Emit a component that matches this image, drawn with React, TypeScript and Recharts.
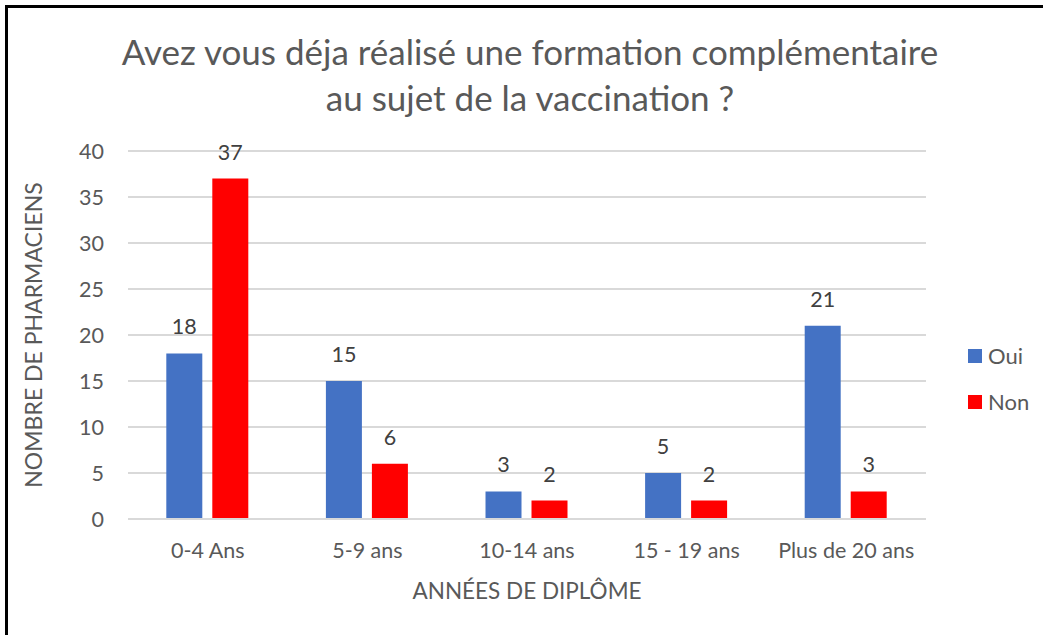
import React from "react";
import { BarChart, Bar, XAxis, YAxis, CartesianGrid, LabelList } from "recharts";

const categories = ["0-4 Ans", "5-9 ans", "10-14 ans", "15 - 19 ans", "Plus de 20 ans"];
const oui = [18, 15, 3, 5, 21];
const non = [37, 6, 2, 2, 3];
const yTicks = [0, 5, 10, 15, 20, 25, 30, 35, 40];

const data = categories.map((c, i) => ({ name: c, Oui: oui[i], Non: non[i] }));

const FONT = "Lato, 'Open Sans', sans-serif";
const GREY = "#595959";

const App = () => {
  return (
    <div style={{ position: "fixed", left: 0, top: 0, width: 1043, height: 635, background: "#fff", fontFamily: FONT }}>
      <div style={{ position: "absolute", left: 5, top: 5, right: 0, bottom: 0, borderTop: "3px solid #000", borderLeft: "3px solid #000" }} />
      <div style={{ position: "absolute", left: 0, top: 28, width: 1060, textAlign: "center", fontSize: 35, lineHeight: "46px", color: GREY }}>
        Avez vous déja réalisé une formation complémentaire
        <br />
        au sujet de la vaccination ?
      </div>
      <div style={{ position: "absolute", left: 33, top: 335, transform: "translate(-50%, -50%) rotate(-90deg)", whiteSpace: "nowrap", fontSize: 23, color: GREY }}>
        NOMBRE DE PHARMACIENS
      </div>
      <div style={{ position: "absolute", left: 527, top: 590, transform: "translate(-50%, -50%)", whiteSpace: "nowrap", fontSize: 22.5, color: GREY }}>
        ANNÉES DE DIPLÔME
      </div>
      <div style={{ position: "absolute", left: 968, top: 345, fontSize: 22, lineHeight: "22px", color: GREY }}>
        <div style={{ display: "flex", alignItems: "center", height: 22 }}>
          <span style={{ width: 14, height: 14, background: "#4472C4", marginRight: 6 }} />Oui
        </div>
        <div style={{ display: "flex", alignItems: "center", height: 22, marginTop: 24 }}>
          <span style={{ width: 14, height: 14, background: "#FF0000", marginRight: 6 }} />Non
        </div>
      </div>
      <BarChart
        width={1043}
        height={635}
        data={data}
        margin={{ top: 151, right: 117, bottom: 76, left: 0 }}
        barCategoryGap="24%"
        barGap={10}
        style={{ position: "absolute", left: 0, top: 0 }}
      >
        <CartesianGrid vertical={false} stroke="#d9d9d9" strokeWidth={2} />
        <XAxis
          dataKey="name"
          height={40}
          axisLine={{ stroke: "#d9d9d9", strokeWidth: 2 }}
          tickLine={false}
          tickMargin={18}
          tick={{ fill: GREY, fontSize: 21.5, fontFamily: FONT }}
        />
        <YAxis
          width={128}
          domain={[0, 40]}
          ticks={yTicks}
          axisLine={false}
          tickLine={false}
          tickMargin={18}
          tick={{ fill: GREY, fontSize: 21.5, fontFamily: FONT }}
        />
        <Bar dataKey="Oui" fill="#4472C4" isAnimationActive={false}>
          <LabelList dataKey="Oui" position="top" offset={19} fill="#404040" fontSize={21.5} fontFamily={FONT} />
        </Bar>
        <Bar dataKey="Non" fill="#FF0000" isAnimationActive={false}>
          <LabelList dataKey="Non" position="top" offset={19} fill="#404040" fontSize={21.5} fontFamily={FONT} />
        </Bar>
      </BarChart>
    </div>
  );
};

export default App;
